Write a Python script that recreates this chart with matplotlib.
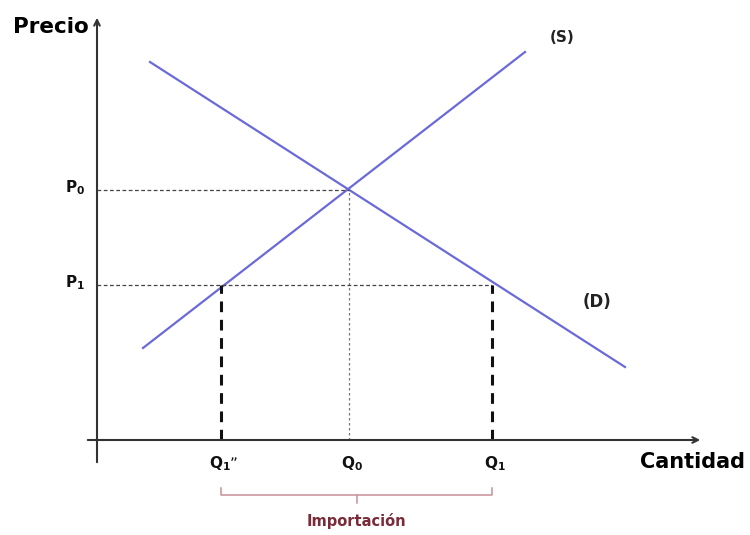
import numpy as np
import matplotlib
matplotlib.use("Agg")
import matplotlib.pyplot as plt

plt.rcParams['font.family'] = ['DejaVu Sans']

# curves (quantity, price) endpoints, origin at axis crossing
supply_q = [46, 428]
supply_p = [92, 388]
demand_q = [53, 528]
demand_p = [378, 73]

# key levels
p_levels = [250, 155]           # P0, P1
p_labels = [r'$\mathbf{P_0}$', r'$\mathbf{P_1}$']
q_levels = [124, 252, 395]      # Q1'', Q0, Q1
q_labels = [r"$\mathbf{Q_1}$”", r'$\mathbf{Q_0}$', r'$\mathbf{Q_1}$']

line_col = '#6a6ad8'

fig = plt.figure(figsize=(7.5, 5.35), dpi=100)
ax = fig.add_axes([0, 0, 1, 1])
ax.set_xlim(-97, 653)
ax.set_ylim(-95, 440)
ax.axis('off')

# axes with arrows
ax.annotate('', xy=(0, 425), xytext=(0, -25),
            arrowprops=dict(arrowstyle='->', color='#333333', lw=1.5))
ax.annotate('', xy=(606, 0), xytext=(-12, 0),
            arrowprops=dict(arrowstyle='->', color='#333333', lw=1.5))

# supply and demand
ax.plot(supply_q, supply_p, color=line_col, lw=1.6)
ax.plot(demand_q, demand_p, color=line_col, lw=1.6)

# guide lines
q_low, q_eq, q_high = q_levels
p_eq, p_low = p_levels
ax.plot([0, q_eq], [p_eq, p_eq], color='#444444', lw=0.9, ls=(0, (3, 2)))
ax.plot([q_eq, q_eq], [0, p_eq], color='#777777', lw=0.9, ls=(0, (2, 2)))
ax.plot([0, q_high], [p_low, p_low], color='#444444', lw=0.9, ls=(0, (3, 2)))
ax.plot([q_low, q_low], [0, p_low], color='#111111', lw=2.2, ls=(0, (3.5, 2.5)))
ax.plot([q_high, q_high], [0, p_low], color='#111111', lw=2.2, ls=(0, (3.5, 2.5)))

# labels
for p, lab in zip(p_levels, p_labels):
    ax.text(-22, p + 2, lab, ha='center', va='center', fontsize=11, color='#111111')
for q, lab in zip(q_levels, q_labels):
    ax.text(q + 3, -24, lab, ha='center', va='center', fontsize=11, color='#111111')

ax.text(-8, 413, 'Precio', ha='right', va='center', fontsize=15.5, fontweight='bold')
ax.text(648, -22, 'Cantidad', ha='right', va='center', fontsize=15, fontweight='bold')
ax.text(465, 402, '(S)', ha='center', va='center', fontsize=11, fontweight='bold', color='#222222')
ax.text(500, 138, '(D)', ha='center', va='center', fontsize=12, fontweight='bold', color='#222222')

# import bracket
br_col = '#c89098'
ax.plot([q_low, q_low, q_high, q_high], [-48, -55, -55, -48], color=br_col, lw=1.1)
mid = (q_low + q_high) / 2
ax.plot([mid, mid], [-55, -63], color=br_col, lw=1.1)
ax.text(mid, -81, 'Importación', ha='center', va='center', fontsize=10.5,
        fontweight='bold', color='#7a2a38')

fig.savefig('out.png', dpi=100)
